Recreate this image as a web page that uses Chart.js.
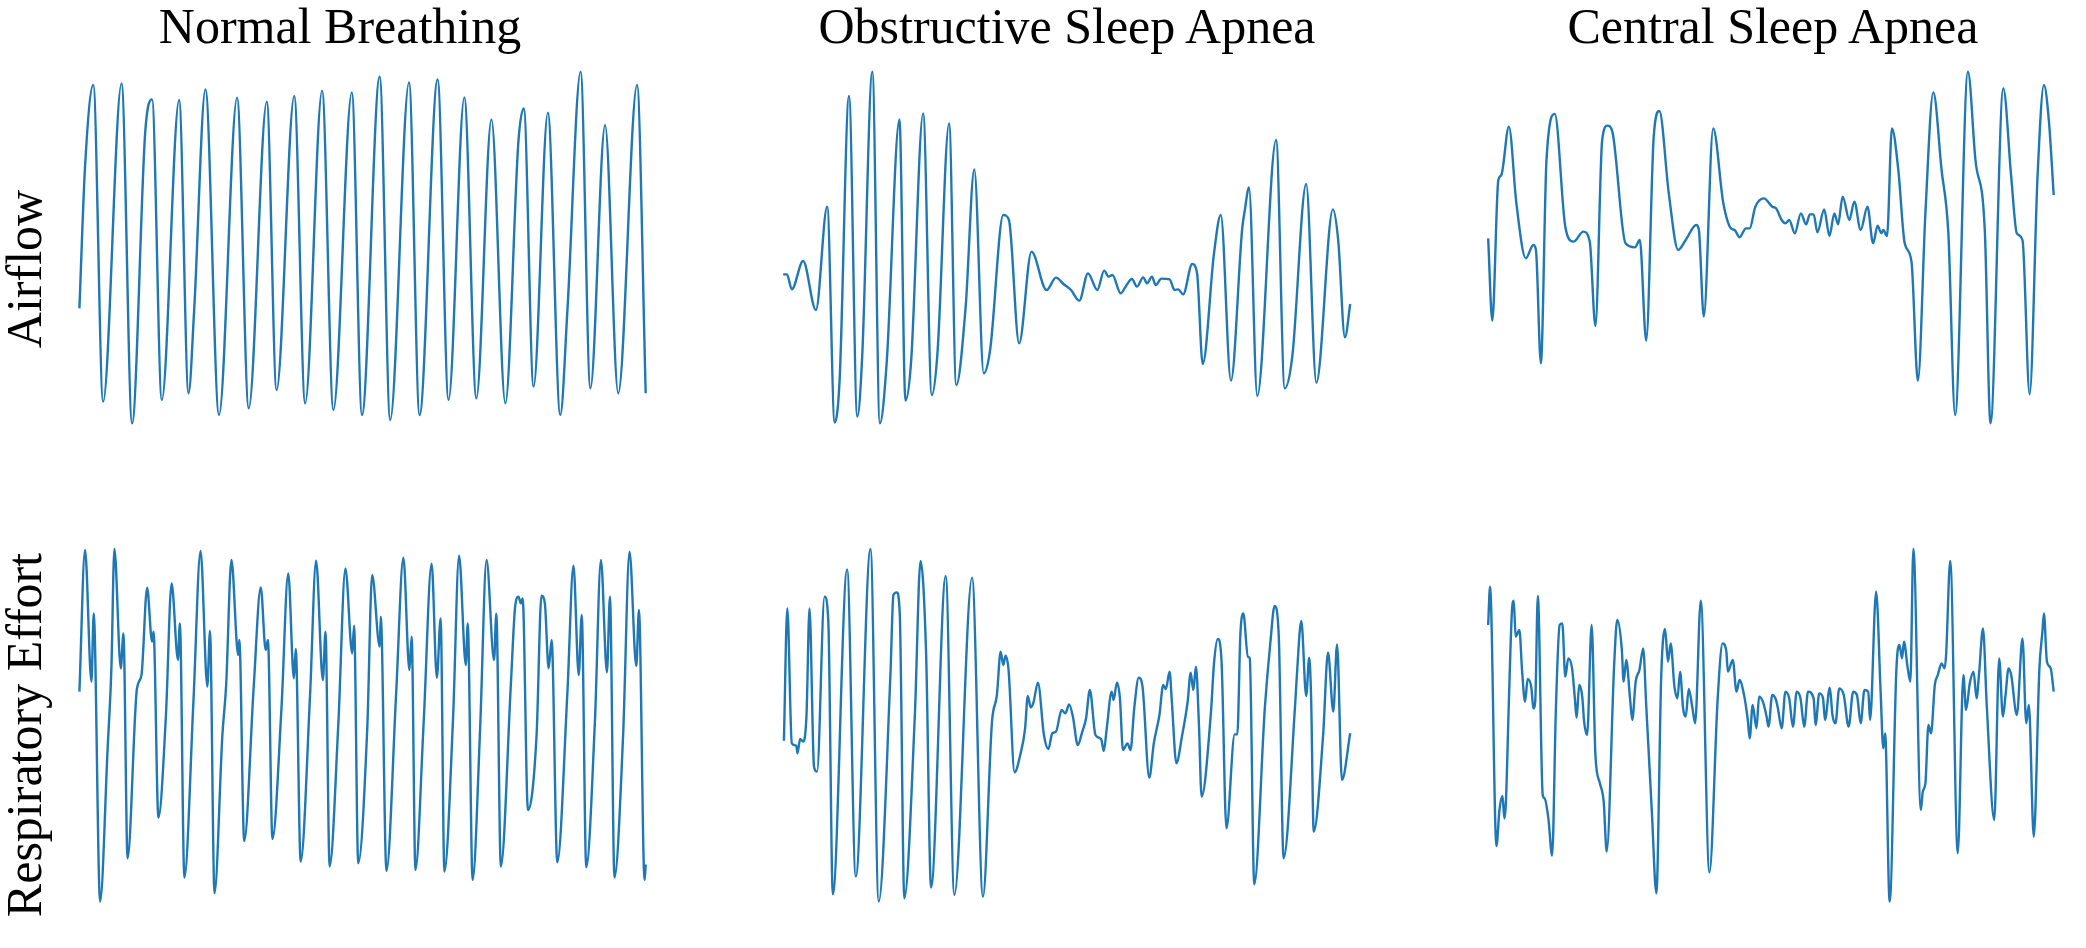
<!DOCTYPE html>
<html>
<head>
<meta charset="utf-8">
<script src="https://cdn.jsdelivr.net/npm/chart.js@4/dist/chart.umd.min.js"></script>
<style>
  html, body { margin:0; padding:0; background:#fff; }
  #fig { position:relative; width:2086px; height:948px; overflow:hidden; background:#fff; }
  canvas { position:absolute; }
  .title { position:absolute; width:700px; height:50px; line-height:50px; text-align:center;
           font-family:"Liberation Serif","Times New Roman",serif; font-size:50px; color:#000; white-space:nowrap; }
  .ylab { position:absolute; width:700px; height:50px; line-height:50px; text-align:center;
          font-family:"Liberation Serif","Times New Roman",serif; font-size:50px; color:#000; white-space:nowrap;
          transform:translate(-50%,-50%) rotate(-90deg); }
</style>
</head>
<body>
<div id="fig">
  <div class="title" style="left:-10px;top:1px;">Normal Breathing</div>
  <div class="title" style="left:717px;top:1px;">Obstructive Sleep Apnea</div>
  <div class="title" style="left:1423px;top:1px;">Central Sleep Apnea</div>
  <div class="ylab" style="left:24px;top:269px;">Airflow</div>
  <div class="ylab" style="left:24px;top:735px;">Respiratory Effort</div>
  <canvas id="p11" width="590" height="375" style="left:70px;top:60px;"></canvas>
  <canvas id="p12" width="590" height="375" style="left:770px;top:60px;"></canvas>
  <canvas id="p13" width="590" height="375" style="left:1475px;top:60px;"></canvas>
  <canvas id="p21" width="590" height="380" style="left:70px;top:535px;"></canvas>
  <canvas id="p22" width="590" height="380" style="left:770px;top:535px;"></canvas>
  <canvas id="p23" width="590" height="380" style="left:1475px;top:535px;"></canvas>
</div>
<script>
// Column titles and row labels
const columnTitles = ["Normal Breathing", "Obstructive Sleep Apnea", "Central Sleep Apnea"];
const rowLabels = ["Airflow", "Respiratory Effort"];

// Sample index (time) and amplitude (a.u.) at the turning points

// Airflow - Normal Breathing
const nbAirT = [25,40,62,88,137,165,200,218,244,290,315,330,360,396,444,475,523,549,596,625,670,700,749,776,823,851,901,929,977,1006,1048,1080,1120,1157,1192,1206,1232,1270,1303,1322,1357,1383,1422,1457,1507,1530];
const nbAirA = [-145,280,525,-425,530,-490,385,482,-420,480,-400,-150,512,-465,487,-445,475,-390,492,-430,508,-450,503,-465,550,-480,533,-465,542,-420,488,-415,422,-430,360,455,-380,442,-465,-150,565,-385,405,-400,525,-400];

// Airflow - Obstructive Sleep Apnea
const osaAirT = [35,45,58,88,122,152,172,185,210,232,245,272,292,310,344,360,375,407,430,445,476,495,520,543,568,585,620,635,662,695,735,760,780,800,822,845,870,888,900,910,932,945,962,975,992,1002,1015,1025,1040,1062,1075,1085,1098,1122,1135,1150,1180,1198,1225,1255,1262,1273,1295,1345,1368,1388,1425,1452,1496,1510,1528,1542];
const osaAirA = [-43,-43,-88,-3,-150,160,-488,-360,492,-470,-290,565,-490,-310,422,-422,-305,440,-405,-280,410,-375,-140,272,-340,-270,135,120,-250,25,-90,-53,-72,-90,-122,-40,-90,-32,-50,-45,-100,-80,-57,-80,-52,-70,-50,-75,-56,-58,-90,-88,-103,-12,-40,-312,20,135,-362,95,150,218,-408,360,-385,-290,228,-368,152,60,-232,-132];

// Airflow - Central Sleep Apnea
const csaAirT = [35,46,62,70,90,110,135,155,162,175,190,212,240,262,288,305,320,338,352,365,400,425,438,455,475,490,515,540,560,588,595,608,633,660,680,690,703,720,730,745,768,790,800,815,825,835,850,866,880,890,900,910,928,942,955,965,977,995,1008,1025,1043,1058,1070,1080,1085,1095,1108,1125,1142,1160,1177,1197,1218,1240,1258,1276,1310,1330,1355,1370,1404,1425,1440,1455,1474,1495,1512,1525,1538];
const csaAirA = [65,-182,240,255,400,170,5,45,30,-310,300,438,100,55,85,55,-198,360,403,385,50,38,60,-242,370,447,200,30,60,105,90,-170,395,170,95,90,68,95,95,160,185,160,155,120,110,120,80,140,107,137,137,83,152,72,140,107,190,120,175,90,160,50,103,80,90,72,395,270,50,-5,-362,140,503,270,80,-465,565,300,85,-490,515,250,80,60,-403,250,525,420,195];

// Respiratory Effort - Normal Breathing
const nbEffT = [25,40,57,63,80,100,110,118,135,142,153,178,190,205,218,222,235,255,270,287,292,304,328,347,365,372,384,405,415,429,447,450,463,488,507,520,526,538,562,580,595,600,613,638,654,672,679,690,713,732,750,755,766,790,803,823,826,841,867,886,902,908,918,940,961,975,985,995,1018,1034,1052,1057,1070,1090,1107,1127,1133,1145,1172,1183,1192,1198,1203,1217,1240,1253,1262,1272,1280,1295,1322,1338,1352,1360,1372,1395,1411,1427,1435,1447,1470,1487,1505,1512,1527,1530];
const nbEffA = [130,555,160,365,-500,-40,200,558,200,305,-370,140,180,442,280,310,-248,60,455,225,335,-428,100,552,145,312,-475,0,150,525,240,285,-318,140,443,255,285,-312,80,485,170,258,-380,120,523,165,310,-395,30,500,245,328,-385,20,480,265,355,-408,130,532,195,295,-405,40,514,172,350,-410,50,538,210,335,-435,20,525,225,364,-395,160,385,415,395,410,-225,0,418,395,200,285,-382,130,508,180,360,-397,40,525,188,415,-428,0,550,207,375,-435,-388];

// Respiratory Effort - Obstructive Sleep Apnea
const osaEffT = [37,46,58,70,73,80,88,97,105,117,125,145,155,167,205,228,267,289,320,328,337,345,357,385,400,415,428,467,490,537,566,590,603,613,620,626,634,650,665,678,685,693,700,712,728,740,750,760,775,785,795,805,818,830,840,850,865,880,887,895,908,913,922,930,938,950,958,968,980,990,1008,1020,1035,1045,1052,1062,1068,1080,1095,1110,1118,1125,1132,1140,1147,1172,1180,1190,1200,1213,1235,1242,1250,1258,1270,1275,1287,1315,1330,1341,1352,1365,1395,1400,1412,1425,1433,1438,1445,1470,1483,1497,1507,1520,1542];
const osaEffA = [-17,380,-25,-32,-55,-12,-20,60,380,-95,-110,415,340,-478,497,-425,558,-500,180,420,428,360,-490,60,522,240,-458,477,-480,472,-485,40,120,250,210,238,195,-112,-60,20,117,83,97,157,0,-42,5,10,75,65,92,55,-30,10,50,135,0,-12,-48,20,130,105,157,110,-45,-25,-45,80,172,145,-128,-25,60,150,138,190,100,-85,-3,100,187,135,205,30,-185,70,215,288,222,-280,2,2,300,365,235,230,-448,80,280,387,300,-370,80,175,342,117,232,115,-290,0,248,70,272,-135,5];

// Respiratory Effort - Central Sleep Apnea
const csaEffT = [35,40,57,65,73,78,82,90,98,103,108,118,125,133,140,150,155,160,167,180,185,195,205,215,225,232,240,248,258,265,270,277,285,290,298,310,320,332,342,350,370,378,390,395,402,412,418,427,437,447,455,470,482,495,505,513,520,530,538,545,553,560,568,578,585,600,623,645,658,668,672,685,695,703,715,725,730,738,748,755,765,775,780,790,800,805,815,825,835,845,855,865,875,885,900,905,915,925,930,943,950,958,968,980,993,1005,1015,1025,1035,1045,1050,1066,1078,1085,1090,1102,1120,1128,1135,1140,1150,1157,1165,1185,1190,1197,1205,1212,1222,1230,1240,1248,1252,1263,1283,1298,1305,1315,1325,1333,1340,1350,1360,1380,1393,1403,1410,1418,1425,1440,1455,1465,1472,1485,1500,1508,1512,1520,1530,1538];
const csaEffA = [330,445,-333,-225,-183,-250,-205,100,368,403,295,315,195,100,168,140,80,100,417,-180,-190,-250,-362,80,330,335,175,230,200,115,52,150,115,40,0,330,-60,-145,-200,-350,215,345,260,160,225,110,45,160,195,260,90,-230,-475,180,318,220,275,145,110,190,80,55,138,80,35,403,-412,110,275,250,190,225,130,165,120,45,-10,90,20,115,100,55,25,120,105,80,20,130,110,25,130,110,25,130,110,30,125,110,45,142,60,35,140,120,25,130,120,35,135,130,45,430,130,-40,5,-500,200,270,230,280,200,160,558,-225,-170,-145,30,5,150,180,215,200,240,522,-355,180,75,155,190,110,190,320,90,-255,230,55,120,200,180,60,290,35,90,-305,200,310,365,220,200,130];

const LINE_COLOR = '#1f77b4';
const T_MAX = 1568;

function makeTrace(id, t, a, yMin, yMax) {
  const pts = t.map((x, i) => ({ x: x, y: a[i] }));
  new Chart(document.getElementById(id), {
    type: 'line',
    data: { datasets: [{
      data: pts,
      borderColor: LINE_COLOR,
      borderWidth: 2.4,
      pointRadius: 0,
      fill: false,
      cubicInterpolationMode: 'monotone',
      clip: false
    }]},
    options: {
      responsive: false,
      animation: false,
      devicePixelRatio: 1,
      events: [],
      layout: { padding: 0 },
      plugins: { legend: { display: false }, tooltip: { enabled: false }, title: { display: false } },
      scales: {
        x: { type: 'linear', display: false, min: 0, max: T_MAX },
        y: { display: false, min: yMin, max: yMax }
      }
    }
  });
}

makeTrace('p11', nbAirT, nbAirA, -525, 600);
makeTrace('p12', osaAirT, osaAirA, -525, 600);
makeTrace('p13', csaAirT, csaAirA, -525, 600);
makeTrace('p21', nbEffT, nbEffA, -540, 600);
makeTrace('p22', osaEffT, osaEffA, -540, 600);
makeTrace('p23', csaEffT, csaEffA, -540, 600);
</script>
</body>
</html>
